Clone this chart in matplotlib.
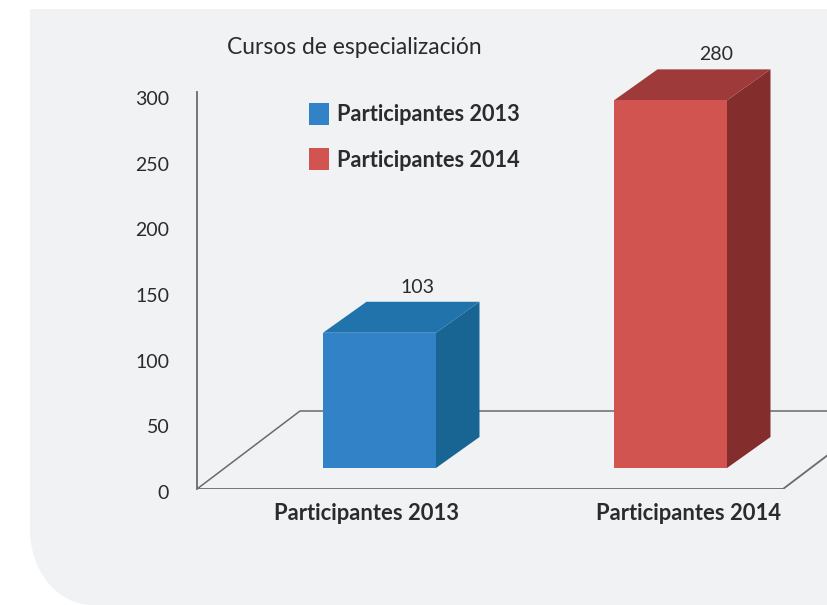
import matplotlib
matplotlib.use('Agg')
import matplotlib.pyplot as plt
from matplotlib.patches import Patch, PathPatch, Polygon
from matplotlib.path import Path
from matplotlib.transforms import IdentityTransform, ScaledTranslation

plt.rcParams['font.family'] = ['Lato', 'DejaVu Sans']

# data
categories = ['Participantes 2013', 'Participantes 2014']
values = [103, 280]
y_ticks = [0, 50, 100, 150, 200, 250, 300]
chart_title = 'Cursos de especialización'

# front, top, side shades per bar
front_colors = ['#3182c6', '#d25451']
top_colors = ['#2074ab', '#9e3b3a']
side_colors = ['#186594', '#832d2d']
line_color = '#6a6a6a'
text_color = '#2b2a2c'

W, H = 827, 605
fig = plt.figure(figsize=(W / 100, H / 100), dpi=100, facecolor='white')

# grey panel, square on top, rounded bottom left. Pixels, y goes up
verts = [(30, H - 9), (W, H - 9), (W, 0), (92, 0), (58, 0), (30, 34), (30, 75), (30, H - 9)]
codes = [Path.MOVETO, Path.LINETO, Path.LINETO, Path.LINETO, Path.CURVE4, Path.CURVE4, Path.CURVE4, Path.CLOSEPOLY]
fig.add_artist(PathPatch(Path(verts, codes), facecolor='#f1f2f4', edgecolor='none',
                         transform=IdentityTransform(), zorder=-1))

# axes run from the y axis line to the right edge
x0_px, y0_px, ytop_px = 197, 489, 92
ax = fig.add_axes([x0_px / W, (H - y0_px) / H, (W - x0_px) / W, (y0_px - ytop_px) / H])
ax.patch.set_alpha(0)

px_x = 291.0          # pixels between the two bars
px_y = 1.313          # pixels per participant
first_px = 379.5      # centre of first bar
ax.set_xlim((x0_px - first_px) / px_x, (W - first_px) / px_x)
ax.set_ylim(0, (y0_px - ytop_px) / px_y)

bar_w = 113 / px_x
depth_x = 43.5 / px_x
depth_y = 31 / px_y
base = 21 / px_y      # bars stand on the floor, a bit above the zero line
label_dx = [-19, -11]

# floor
fl = ax.get_xlim()[0]
floor_back = 78 / px_y
floor_dx = 103 / px_x
floor_right = fl + (783 - x0_px) / px_x
ax.plot([fl, fl + floor_dx, ax.get_xlim()[1]], [0, floor_back, floor_back], color=line_color, lw=1.1, zorder=1)
ax.plot([fl, floor_right, floor_right + floor_dx], [0, 0, floor_back], color=line_color, lw=1.3, zorder=1)

for i, v in enumerate(values):
    l, r = i - bar_w / 2, i + bar_w / 2
    top = base + v
    ax.add_patch(Polygon([(r, base), (r + depth_x, base + depth_y), (r + depth_x, top + depth_y), (r, top)],
                         facecolor=side_colors[i], edgecolor='none', zorder=2, clip_on=False))
    ax.add_patch(Polygon([(l, top), (r, top), (r + depth_x, top + depth_y), (l + depth_x, top + depth_y)],
                         facecolor=top_colors[i], edgecolor='none', zorder=2, clip_on=False))
    ax.bar(i, v, bottom=base, width=bar_w, color=front_colors[i], zorder=3, clip_on=False)
    ax.annotate(str(v), (r, top + depth_y), xytext=(label_dx[i], 6), textcoords='offset pixels',
                ha='center', va='bottom', fontsize=14, color=text_color, annotation_clip=False)

for s in ['top', 'right', 'bottom']:
    ax.spines[s].set_visible(False)
ax.spines['left'].set_color(line_color)
ax.spines['left'].set_linewidth(1.3)

ax.set_yticks(y_ticks)
ax.tick_params(axis='y', length=0, pad=20, labelsize=14, labelcolor=text_color)
# tick labels sit a little under their value in the original
shift = ScaledTranslation(0, -3 / 100, fig.dpi_scale_trans)
for t in ax.get_yticklabels():
    t.set_transform(t.get_transform() + shift)
ax.set_xticks([-0.043, 1.062], categories)
ax.tick_params(axis='x', length=0, pad=10, labelsize=15.8, labelcolor=text_color)
for t in ax.get_xticklabels():
    t.set_fontweight('bold')

fig.text(227 / W, 1 - 48 / H, chart_title, fontsize=16.4, color=text_color, va='center', ha='left')

handles = [Patch(facecolor=c, edgecolor='none') for c in front_colors]
fig.legend(handles, categories, loc='upper left', bbox_to_anchor=(309 / W, 1 - 103 / H), frameon=False,
           borderpad=0, borderaxespad=0, handlelength=0.92, handleheight=1.175, handletextpad=0.37, labelspacing=1.05,
           prop={'size': 15.7, 'weight': 'bold'}, labelcolor=text_color)

fig.savefig('out.png', dpi=100)
